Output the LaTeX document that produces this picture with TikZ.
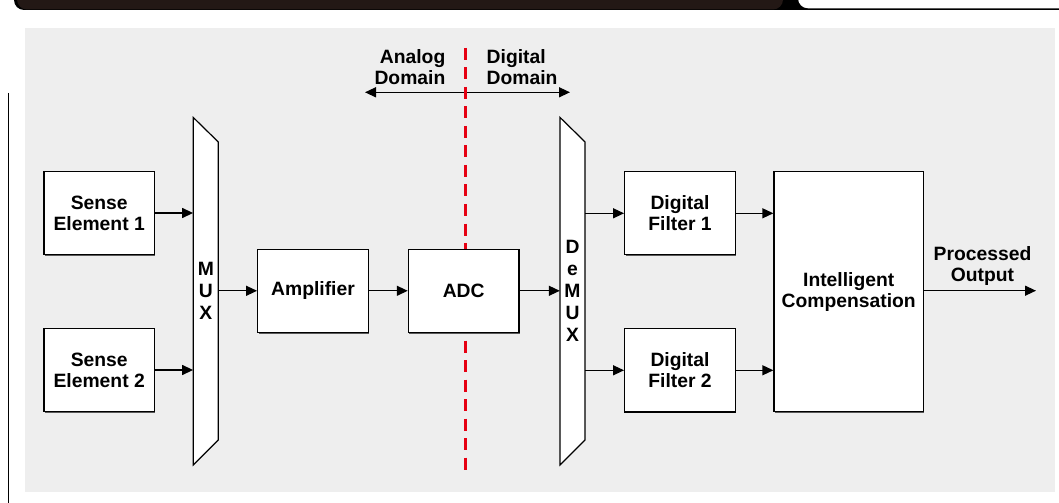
\documentclass[tikz,border=0pt]{standalone}
\usepackage{fontspec}
\setmainfont{Liberation Sans}
\usetikzlibrary{arrows.meta,calc,shadows}
\definecolor{bgGray}{HTML}{EEEEEE}
\definecolor{barDark}{HTML}{231815}
\definecolor{domRed}{RGB}{230,0,18}
\newcommand\dgfont{\fontsize{19.3bp}{21bp}\selectfont\bfseries}
\newcommand\dgvfont{\fontsize{19.3bp}{22bp}\selectfont\bfseries}
\begin{document}
\begin{tikzpicture}[x=1bp,y=-1bp,
  blk/.style={draw=black, line width=1.4bp, fill=white, inner sep=0pt,
    minimum width=110.5bp, minimum height=83bp, align=center, font=\dgfont,
    drop shadow={shadow xshift=0.8bp, shadow yshift=-1.2bp, fill=black!65, opacity=1}},
  lbl/.style={inner sep=0pt, align=center, font=\dgfont},
  vlbl/.style={inner sep=0pt, align=center, font=\dgvfont, minimum width=25bp, minimum height=347.5bp},
  muxshape/.style={draw=black, fill=white, line width=1.2bp, line join=miter},
  arr/.style={line width=1.3bp, -{Triangle[length=11bp,width=10bp]}},
  domarr/.style={line width=1.4bp, {Triangle[length=11bp,width=10bp]}-{Triangle[length=11bp,width=10bp]}},
  reddash/.style={draw=domRed, line width=2.5bp, dash pattern=on 12bp off 7.5bp}
]
\useasboundingbox (0,0) rectangle (1059,503);
\begin{scope}
\clip (0,0) rectangle (1059,503);
% top bar
\fill[black] (760,0) rectangle (1059,10.5);
\fill[black, rounded corners=10bp] (14,-20) rectangle (792,10);
\fill[barDark, rounded corners=10bp] (17,-20) rectangle (783,9.5);
\fill[white, rounded corners=10bp] (798,-20) rectangle (1080,8.3);
\end{scope}
% background panel
\fill[bgGray] (25,28) rectangle (1055,492);
\draw[line width=1bp] (8,93) -- (8,503);

% domain arrow and labels
\coordinate (dl) at (365,92.3);
\coordinate (dr) at (570,92.3);
\draw[domarr] (dl) -- (dr);
\node[lbl, align=right, anchor=east] (alab) at (445.5,67.5) {Analog\\Domain};
\node[lbl, align=left, anchor=west] (dlab) at (486.5,67.5) {Digital\\Domain};

% red dashed divider
\coordinate (rtop) at (465.7,48);
\coordinate (rbot) at (465.7,471);
\draw[reddash] (rtop) -- (rbot);

% sense elements
\node[blk] (s1) at (99.2,213) {Sense\\Element 1};
\node[blk] (s2) at (99.2,370) {Sense\\Element 2};

% MUX
\coordinate (muxc) at (205.8,291.3);
\filldraw[muxshape] ($(muxc)+(-12.5,-173.8)$) -- ($(muxc)+(12.5,-149.3)$) -- ($(muxc)+(12.5,148.7)$) -- ($(muxc)+(-12.5,173.7)$) -- cycle;
\node[vlbl] (mux) at (muxc) {M\\U\\X};

% amplifier, ADC
\node[blk] (amp) at (313,290.8) {Amplifier};
\node[blk] (adc) at (463.7,290.8) {ADC};

% DeMUX
\coordinate (demuxc) at (572.5,291.2);
\filldraw[muxshape] ($(demuxc)+(-12.5,-173.8)$) -- ($(demuxc)+(12.5,-149.3)$) -- ($(demuxc)+(12.5,148.7)$) -- ($(demuxc)+(-12.5,173.7)$) -- cycle;
\node[vlbl] (demux) at (demuxc) {D\\e\\M\\U\\X};

% filters and compensation
\node[blk] (df1) at (680,213.3) {Digital\\Filter 1};
\node[blk] (df2) at (680,370.3) {Digital\\Filter 2};
\node[blk, minimum width=149.3bp, minimum height=240bp] (ic) at (848.7,291.7) {Intelligent\\Compensation};

% connectors
\draw[arr] (s1.east) -- (s1.east -| mux.west);
\draw[arr] (s2.east) -- (s2.east -| mux.west);
\draw[arr] (mux.east |- amp.west) -- (amp.west);
\draw[arr] (amp.east) -- (adc.west);
\draw[arr] (adc.east) -- (adc.east -| demux.west);
\draw[arr] (df1.west -| demux.east) -- (df1.west);
\draw[arr] (df2.west -| demux.east) -- (df2.west);
\draw[arr] (df1.east) -- (df1.east -| ic.west);
\draw[arr] (df2.east) -- (df2.east -| ic.west);
\coordinate (outEnd) at (1036,290.7);
\draw[arr] (ic.east |- outEnd) -- (outEnd);
\node[lbl] (outlbl) at (982.5,266) {Processed\\Output};
\end{tikzpicture}
\end{document}
